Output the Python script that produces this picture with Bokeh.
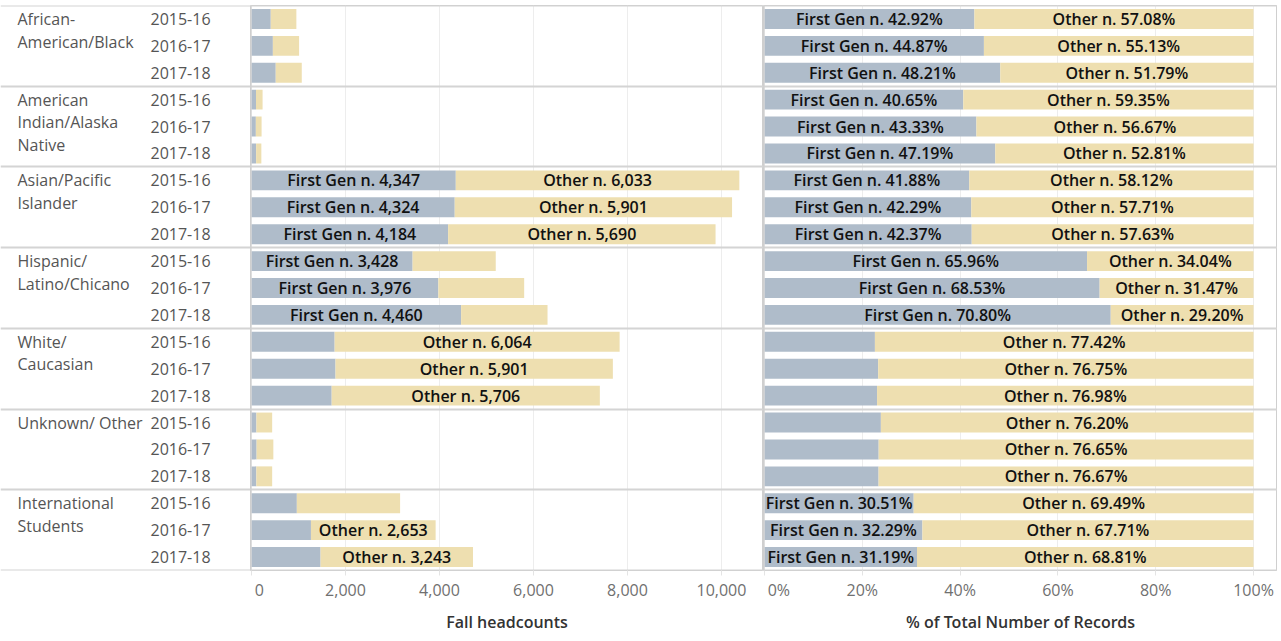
import numpy as np
from bokeh.plotting import figure
from bokeh.layouts import row
from bokeh.models import Range1d, FixedTicker, NumeralTickFormatter, BoxAnnotation
from bokeh.core.properties import value
from bokeh.embed import file_html
from bokeh.resources import INLINE

# ---------------- data ----------------
groups = ["African-\nAmerican/Black", "American\nIndian/Alaska\nNative", "Asian/Pacific\nIslander",
          "Hispanic/\nLatino/Chicano", "White/\nCaucasian", "Unknown/ Other", "International\nStudents"]
years = ["2015-16", "2016-17", "2017-18"]

first_gen_n = [410, 455, 516,
               96, 93, 99,
               4347, 4324, 4184,
               3428, 3976, 4460,
               1769, 1788, 1706,
               105, 109, 103,
               965, 1265, 1470]
other_n = [545, 558, 554,
           140, 122, 111,
           6033, 5901, 5690,
           1769, 1826, 1839,
           6064, 5901, 5706,
           335, 356, 337,
           2197, 2653, 3243]
first_gen_pct = [42.92, 44.87, 48.21,
                 40.65, 43.33, 47.19,
                 41.88, 42.29, 42.37,
                 65.96, 68.53, 70.80,
                 22.58, 23.25, 23.02,
                 23.80, 23.35, 23.33,
                 30.51, 32.29, 31.19]
other_pct = [57.08, 55.13, 51.79,
             59.35, 56.67, 52.81,
             58.12, 57.71, 57.63,
             34.04, 31.47, 29.20,
             77.42, 76.75, 76.98,
             76.20, 76.65, 76.67,
             69.49, 67.71, 68.81]
headcount_ticks = [0, 2000, 4000, 6000, 8000, 10000]
pct_ticks = [0, 20, 40, 60, 80, 100]
pct_tick_labels = ["0%", "20%", "40%", "60%", "80%", "100%"]

# ---------------- style ----------------
FONT = "Open Sans"
MED_FONT = "Open Sans SemiBold, Open Sans"
BLUE = "#AFBCCA"
TAN = "#EEDFB0"
SEP = "#d4d4d4"
GRID = "#ededed"
LABEL_COLOR = "#555555"
BAR_TEXT = "#111111"
H = 636
TOP = 5
BOTTOM = H - 570
BAR_H = 0.74

n_rows = len(groups) * len(years)
rows = np.arange(n_rows) + 0.5
row_years = [years[i % 3] for i in range(n_rows)]
group_tops = np.arange(len(groups)) * 3 + 0.5
seps = list(np.arange(0, n_rows + 1, 3))

first = np.array(first_gen_n, dtype=float)
other = np.array(other_n, dtype=float)
fpct = np.array(first_gen_pct)
opct = np.array(other_pct)

y_range = Range1d(n_rows, 0)


def base_fig(width, x_range):
    p = figure(width=width, height=H, x_range=x_range, y_range=y_range,
               output_backend="svg", toolbar_location=None,
               min_border_left=0, min_border_right=0, min_border_top=TOP,
               min_border_bottom=BOTTOM)
    p.background_fill_color = "white"
    p.border_fill_color = "white"
    return p


# ---------------- label panel ----------------
pA = base_fig(250, Range1d(0, 250))
pA.axis.visible = False
pA.grid.visible = False
pA.outline_line_color = None
pA.hspan(y=seps, line_color=SEP, line_width=2)
pA.text(x=17, y=group_tops, text=groups, text_font=value(FONT), text_font_size="16px",
        text_color=LABEL_COLOR, text_align="left", text_baseline="top",
        text_line_height=1.03, y_offset=-11)
pA.text(x=150, y=rows, text=row_years, text_font=value(FONT), text_font_size="16px",
        text_color=LABEL_COLOR, text_align="left", text_baseline="middle")


def style_panel(p, ticks, title):
    p.yaxis.visible = False
    p.ygrid.visible = False
    p.xgrid.ticker = FixedTicker(ticks=ticks)
    p.xgrid.grid_line_color = GRID
    p.outline_line_color = "#cfcfcf"
    p.outline_line_width = 1
    ax = p.xaxis[0]
    ax.ticker = FixedTicker(ticks=ticks)
    ax.axis_line_color = None
    ax.major_tick_in = 0
    ax.major_tick_out = 5
    ax.major_tick_line_color = "#e4e4e4"
    ax.minor_tick_line_color = None
    ax.major_label_text_font = FONT
    ax.major_label_text_font_size = "16px"
    ax.major_label_text_color = "#707070"
    ax.major_label_standoff = 3
    ax.axis_label = title
    ax.axis_label_text_font = MED_FONT
    ax.axis_label_text_font_size = "16px"
    ax.axis_label_text_font_style = "normal"
    ax.axis_label_text_color = "#333333"
    ax.axis_label_standoff = 7
    p.hspan(y=seps, line_color=SEP, line_width=2)
    p.add_layout(BoxAnnotation(left=0, right=1, top=0, bottom=H,
                               left_units="canvas", right_units="canvas",
                               top_units="canvas", bottom_units="canvas",
                               fill_color="#cfcfcf", fill_alpha=1, line_color=None,
                               level="overlay"))


LBL = dict(text_font=value(MED_FONT), text_font_size="16px", text_font_style="normal",
           text_color=BAR_TEXT, text_align="center", text_baseline="middle")

# ---------------- headcount panel ----------------
pB = base_fig(513, Range1d(-21, 10894))
style_panel(pB, headcount_ticks, "Fall headcounts")
pB.xaxis[0].formatter = NumeralTickFormatter(format="0,0")
pB.xaxis[0].major_label_overrides = {0: "\u00a00"}
pB.hbar(y=rows, left=0, right=first, height=BAR_H, fill_color=BLUE, line_color=None)
pB.hbar(y=rows, left=first, right=first + other, height=BAR_H, fill_color=TAN, line_color=None)

show_f = first >= 3000
pB.text(x=(first / 2)[show_f], y=rows[show_f],
        text=["First Gen n. {:,}".format(int(v)) for v in first[show_f]], **LBL)
show_o = other >= 2400
pB.text(x=(first + other / 2)[show_o], y=rows[show_o],
        text=["Other n. {:,}".format(int(v)) for v in other[show_o]], **LBL)

# ---------------- percent panel ----------------
pC = base_fig(514, Range1d(-0.2, 104.9))
style_panel(pC, pct_ticks, "% of Total Number of Records")
overrides = {t: l for t, l in zip(pct_ticks, pct_tick_labels)}
overrides[0] = "\u00a0" + "0%"
pC.xaxis[0].major_label_overrides = overrides
pC.hbar(y=rows, left=0, right=fpct, height=BAR_H, fill_color=BLUE, line_color=None)
pC.hbar(y=rows, left=fpct, right=fpct + opct, height=BAR_H, fill_color=TAN, line_color=None)

show_fp = fpct >= 30
pC.text(x=(fpct / 2)[show_fp], y=rows[show_fp],
        text=["First Gen n. {:.2f}%".format(v) for v in fpct[show_fp]], **LBL)
pC.text(x=fpct + opct / 2, y=rows,
        text=["Other n. {:.2f}%".format(v) for v in opct], **LBL)

layout = row(pA, pB, pC)
open("out.html", "w").write(file_html(layout, INLINE))
